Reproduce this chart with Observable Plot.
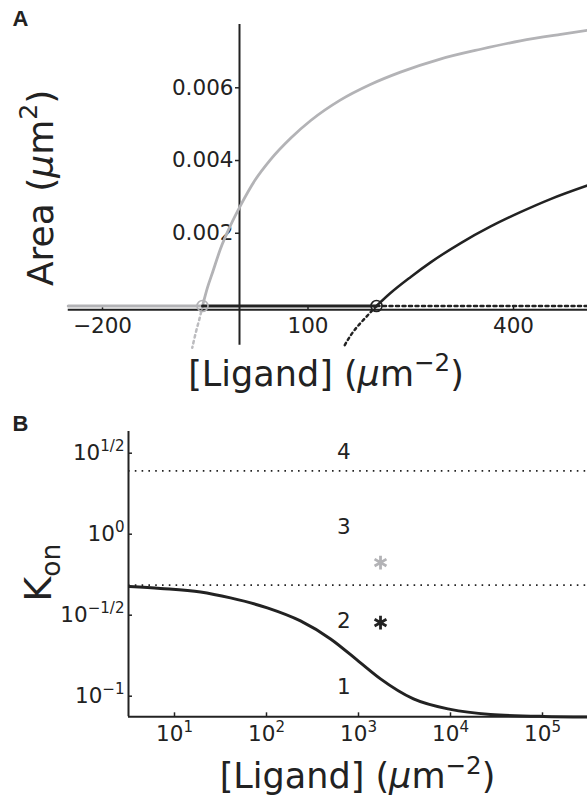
<!DOCTYPE html>
<html>
<head>
<meta charset="utf-8">
<script src="https://cdn.jsdelivr.net/npm/d3@7"></script>
<script src="https://cdn.jsdelivr.net/npm/@observablehq/plot@0.6"></script>
<style>
  html, body { margin: 0; padding: 0; background: #fff; }
  #wrap { position: relative; width: 587px; height: 800px; background: #fff; overflow: hidden; }
  #panelA { position: absolute; left: 0; top: 0; }
  #panelB { position: absolute; left: 0; top: 400px; }
</style>
</head>
<body>
<div id="wrap"><div id="panelA"></div><div id="panelB"></div></div>
<script>
// ---------------- Panel A data ----------------
const aXTicks = [-200, 100, 400];
const aXTickLabels = ["−200", "100", "400"];
const aYTicks = [0.002, 0.004, 0.006];
const aYTickLabels = ["0.002", "0.004", "0.006"];

// grey (stable, solid) branch
const greyX = [-54, -47, -39, -28, -13, 2, 23, 45, 75, 104, 147, 191, 235, 293, 352, 410, 469, 512];
const greyY = [0, 0.00049, 0.00094, 0.00156, 0.00222, 0.00278, 0.00347, 0.00402, 0.00462, 0.00510, 0.00566, 0.00609, 0.00643, 0.00679, 0.00706, 0.00729, 0.00747, 0.00759];
// grey dotted (unphysical) continuation
const greyDotX = [-54, -58, -63, -69];
const greyDotY = [0, -0.00032, -0.00067, -0.00115];
// grey zero branch
const greyZeroX = [-250, -54];
const greyZeroY = [0, 0];

// black branch
const blackX = [200, 220, 250, 279, 323, 366, 410, 454, 512];
const blackY = [0, 0.00035, 0.00080, 0.00120, 0.00173, 0.00218, 0.00258, 0.00294, 0.00334];
const blackDotX = [200, 184, 168, 152];
const blackDotY = [0, -0.00032, -0.00066, -0.00113];
const blackZeroX = [-54, 200];
const blackZeroY = [0, 0];
const blackZeroDotX = [200, 520];
const blackZeroDotY = [0, 0];

// bifurcation points
const bifX = [-54, 200];
const bifY = [0, 0];
const bifColor = ["#b3b3b6", "#222"];

// ---------------- Panel B data ----------------
const bXTicks = [10, 100, 1000, 10000, 100000];
const bXTickLabels = ["10^{1}", "10^{2}", "10^{3}", "10^{4}", "10^{5}"];
const bYTicks = [0.1, 0.31623, 1, 3.16228];
const bYTickLabels = ["10^{−1}", "10^{−1/2}", "10^{0}", "10^{1/2}"];

const ligand = [3.24, 7.05, 19.2, 40.6, 102, 234, 497, 1052, 1735, 3960, 10000, 27200, 102500, 308000];
const kon = [0.4747, 0.4627, 0.4403, 0.4044, 0.3509, 0.2915, 0.2258, 0.1606, 0.1279, 0.0962, 0.0829, 0.0772, 0.0750, 0.0745];

const thresholds = [0.485, 2.46];
const regionNames = ["1", "2", "3", "4"];
const regionKon = [0.113, 0.2915, 1.099, 3.19];
const regionLigand = 692;

const starLigand = [1735, 1735];
const starKon = [0.2846, 0.668];
const starColor = ["#222", "#b3b3b6"];

// ---------------- styling ----------------
const ink = "#222";
const grey = "#b3b3b6";
const font = "DejaVu Sans";

// rich text: ^{..} superscript, _{..} subscript, italic mu
function richText(root) {
  const ns = "http://www.w3.org/2000/svg";
  root.querySelectorAll("text").forEach(t => {
    const s = t.textContent;
    if (!/[\^_]\{|μ/.test(s)) return;
    const fs = parseFloat(getComputedStyle(t).fontSize) || 16;
    const parts = s.split(/(\^\{[^}]*\}|_\{[^}]*\}|μ)/).filter(p => p !== "");
    t.textContent = "";
    let offset = 0;
    for (const p of parts) {
      const ts = document.createElementNS(ns, "tspan");
      let target = 0, size = null, txt = p, italic = false;
      if (p.startsWith("^{")) { target = -0.42 * fs; size = 0.7 * fs; txt = p.slice(2, -1); }
      else if (p.startsWith("_{")) { target = 0.24 * fs; size = 0.7 * fs; txt = p.slice(2, -1); }
      else if (p === "μ") { italic = true; }
      if (target - offset !== 0) ts.setAttribute("dy", (target - offset).toFixed(2));
      offset = target;
      if (size) ts.setAttribute("font-size", size.toFixed(2));
      if (italic) ts.setAttribute("font-style", "italic");
      ts.textContent = txt;
      t.appendChild(ts);
    }
  });
}

// ---------------- Panel A ----------------
const aAxisY = -0.0001;
const aYAxisRange = [-0.00108, 0.00774];
const aXAxisRange = [-250, 520];

const plotA = Plot.plot({
  width: 587, height: 400,
  marginLeft: 102, marginRight: 74, marginTop: 87.3, marginBottom: 94.5,
  x: {domain: [-200, 400], axis: null},
  y: {domain: [0, 0.006], axis: null},
  style: {fontFamily: font, color: ink, background: "transparent", overflow: "visible"},
  marks: [
    // axes
    Plot.ruleY([aAxisY], {x1: aXAxisRange[0], x2: aXAxisRange[1], stroke: ink, strokeWidth: 2}),
    Plot.ruleX([0], {y1: aYAxisRange[0], y2: aYAxisRange[1], stroke: ink, strokeWidth: 2}),
    Plot.ruleX(aXTicks, {x: d => d, y1: aAxisY, y2: aAxisY, insetTop: -4, stroke: ink, strokeWidth: 1.5}),
    Plot.ruleY(aYTicks, {y: d => d, x1: 0, x2: 0, insetLeft: -4, stroke: ink, strokeWidth: 1.5}),
    Plot.text(aXTicks, {x: d => d, y: aAxisY, text: (d, i) => aXTickLabels[i], lineAnchor: "top", dy: 8, fontSize: 21.5, fill: ink}),
    Plot.text(aYTicks, {x: 0, y: d => d, text: (d, i) => aYTickLabels[i], textAnchor: "end", dx: -6, fontSize: 21.5, fill: ink}),
    // grey branch
    Plot.line(greyZeroX, {x: d => d, y: (d, i) => greyZeroY[i], stroke: grey, strokeWidth: 3}),
    Plot.line(greyDotX, {x: d => d, y: (d, i) => greyDotY[i], stroke: "#bcbcbf", strokeWidth: 2.5, strokeDasharray: "2.5,3.5", curve: "monotone-y"}),
    Plot.line(greyX, {x: d => d, y: (d, i) => greyY[i], stroke: grey, strokeWidth: 2.8, curve: "monotone-x"}),
    // black branch
    Plot.line(blackZeroX, {x: d => d, y: (d, i) => blackZeroY[i], stroke: ink, strokeWidth: 3}),
    Plot.line(blackZeroDotX, {x: d => d, y: (d, i) => blackZeroDotY[i], stroke: ink, strokeWidth: 2.5, strokeDasharray: "3,3.5"}),
    Plot.line(blackDotX, {x: d => d, y: (d, i) => blackDotY[i], stroke: ink, strokeWidth: 2.5, strokeDasharray: "2.5,3.5", curve: "monotone-y"}),
    Plot.line(blackX, {x: d => d, y: (d, i) => blackY[i], stroke: ink, strokeWidth: 2.5, curve: "monotone-x"}),
    // bifurcation circles
    Plot.dot(bifX, {x: d => d, y: (d, i) => bifY[i], r: 5.5, stroke: (d, i) => bifColor[i], strokeWidth: 1.6, fill: "none"}),
    // labels
    Plot.text(["[Ligand] (μm^{−2})"], {frameAnchor: "bottom", textAnchor: "middle", dx: 18, dy: 79.5, lineAnchor: "bottom", fontSize: 35, fill: ink}),
    Plot.text(["Area (μm^{2})"], {frameAnchor: "left", textAnchor: "middle", rotate: -90, dx: -50, dy: -9, lineAnchor: "bottom", fontSize: 36, fill: ink}),
    Plot.text(["A"], {frameAnchor: "top-left", textAnchor: "start", lineAnchor: "bottom", dx: -90, dy: -62, fontSize: 22, fontWeight: "bold", fontFamily: "Liberation Sans", fill: ink})
  ]
});
document.getElementById("panelA").appendChild(plotA);
richText(plotA);

// ---------------- Panel B ----------------
const bXMin = 3.1623, bXMax = 400000;
const bYMin = 0.0746, bYMax = 4.30;

const plotB = Plot.plot({
  width: 587, height: 400,
  marginLeft: 174, marginRight: 45, marginTop: 52.7, marginBottom: 104.3,
  x: {type: "log", domain: [10, 100000], axis: null},
  y: {type: "log", domain: [0.1, 3.16228], axis: null},
  style: {fontFamily: font, color: ink, background: "transparent", overflow: "visible"},
  marks: [
    Plot.ruleY(thresholds, {y: d => d, x1: bXMin, x2: bXMax, stroke: ink, strokeWidth: 1.6, strokeDasharray: "1.6,5.2"}),
    // axes
    Plot.ruleX([bXMin], {y1: bYMin, y2: bYMax, stroke: ink, strokeWidth: 2}),
    Plot.ruleY([bYMin], {x1: bXMin, x2: bXMax, stroke: ink, strokeWidth: 2}),
    Plot.ruleX(bXTicks, {x: d => d, y1: bYMin, y2: bYMin, insetTop: -4, stroke: ink, strokeWidth: 1.5}),
    Plot.ruleY(bYTicks, {y: d => d, x1: bXMin, x2: bXMin, insetRight: -4, stroke: ink, strokeWidth: 1.5}),
    Plot.text(bXTicks, {x: d => d, y: bYMin, text: (d, i) => bXTickLabels[i], lineAnchor: "top", dy: 9, fontSize: 21.5, fill: ink}),
    Plot.text(bYTicks, {x: bXMin, y: d => d, text: (d, i) => bYTickLabels[i], textAnchor: "end", dx: -4, fontSize: 21.5, fill: ink}),
    // curve
    Plot.line(ligand, {x: d => d, y: (d, i) => kon[i], stroke: ink, strokeWidth: 3, curve: "monotone-x"}),
    // region labels
    Plot.text(regionNames, {x: regionLigand, y: (d, i) => regionKon[i], text: d => d, fontSize: 21.5, fill: ink}),
    // asterisks
    Plot.dot(starLigand, {x: d => d, y: (d, i) => starKon[i], symbol: "asterisk", r: 6.5, stroke: (d, i) => starColor[i], strokeWidth: 2.8}),
    // labels
    Plot.text(["[Ligand] (μm^{−2})"], {frameAnchor: "bottom", textAnchor: "middle", dx: -1, dy: 92, lineAnchor: "bottom", fontSize: 35, fill: ink}),
    Plot.text(["K_{on}"], {frameAnchor: "left", textAnchor: "middle", rotate: -90, dx: -124, dy: -2, lineAnchor: "bottom", fontSize: 38, fill: ink}),
    Plot.text(["B"], {frameAnchor: "top-left", textAnchor: "start", lineAnchor: "bottom", dx: -162, dy: -22.5, fontSize: 22, fontWeight: "bold", fontFamily: "Liberation Sans", fill: ink})
  ]
});
document.getElementById("panelB").appendChild(plotB);
richText(plotB);
</script>
</body>
</html>
